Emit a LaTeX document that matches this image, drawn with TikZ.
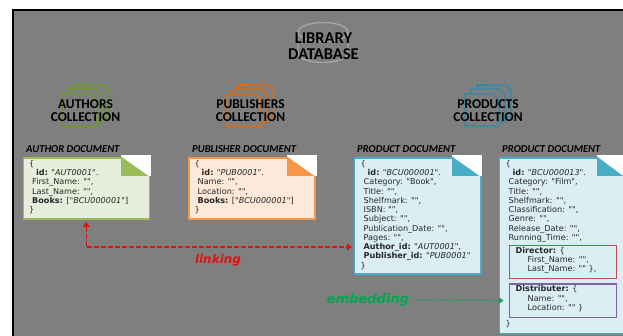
\documentclass[tikz,border=0pt]{standalone}
\usepackage{fontspec}
\setmainfont{Carlito}
\newfontfamily\docfont{DejaVu Sans}
\usetikzlibrary{arrows.meta,calc}
\definecolor{bggrey}{HTML}{7F7F7F}
\definecolor{gfill}{HTML}{E8EEDC}
\definecolor{gline}{HTML}{9BBB59}
\definecolor{ofill}{HTML}{FDE9D9}
\definecolor{oline}{HTML}{F79646}
\definecolor{bfill}{HTML}{DAEEF3}
\definecolor{bline}{HTML}{4BACC6}
\definecolor{gicon}{HTML}{6E9A2A}
\definecolor{oicon}{HTML}{E36C09}
\definecolor{bicon}{HTML}{2A8CA8}
\definecolor{cyl}{HTML}{A8A69A}
\definecolor{linkred}{HTML}{E01010}
\definecolor{embgreen}{HTML}{00A850}
\definecolor{dirline}{HTML}{C0504D}
\definecolor{distline}{HTML}{8064A2}
\tikzset{
  x=1pt,y=-1pt,
  docbox/.style={draw=#1,line width=1.5pt,anchor=north west,inner sep=0pt},
  doctitle/.style={font=\fontsize{10.6}{11}\selectfont\bfseries\itshape,anchor=west,inner sep=0pt},
  doctext/.style={font=\docfont\fontsize{8.1}{9.25}\selectfont,align=left,anchor=north west,inner sep=0pt,text=black!85},
  colltitle/.style={font=\fontsize{13.5}{12.5}\selectfont\bfseries,align=center,inner sep=0pt,text=black},
  iconpage/.style={draw=#1,line width=1.2pt,fill=none},
  subbox/.style={draw=#1,line width=1.2pt,anchor=north west,inner sep=0pt,minimum width=107pt,minimum height=33pt},
  linkarrow/.style={draw=linkred,line width=1.3pt,dashed,dash pattern=on 5pt off 2pt,{Triangle[length=5pt,width=7pt]}-{Triangle[length=5pt,width=7pt]}},
  linklabel/.style={font=\docfont\fontsize{12}{13}\selectfont\bfseries\itshape,text=linkred,inner sep=0pt},
  emblabel/.style={font=\docfont\fontsize{13}{13}\selectfont\bfseries\itshape,text=embgreen,inner sep=0pt},
}
\newcommand{\foldcorner}[4]{%
  \fill[white] (#1,155) rectangle (#2,#3);
  \fill[#4] (#1,#3) -- (#1,156.5) -- (#2-2.5,#3) -- cycle;
}
\newcommand{\collicon}[2]{%
  \begin{scope}[xshift=#1pt]
    \draw[iconpage=#2] (85,85) -- (103,85) -- (108,90) -- (108,117) -- (102,117);
    \draw[iconpage=#2] (68,94) -- (68,89) -- (96,89) -- (102,95) -- (102,122) -- (96,122);
    \draw[iconpage=#2] (74,89) -- (74,85) -- (85,85);
    \draw[iconpage=#2] (62,94) -- (90,94) -- (96,100) -- (96,126) -- (62,126) -- cycle;
  \end{scope}
}
\begin{document}
\begin{tikzpicture}
\useasboundingbox (0,0) rectangle (623,336);
\clip (0,0) rectangle (623,336);
\fill[white] (0,0) rectangle (623,336);
\fill[bggrey] (12,10) rectangle (623,336);
\draw[black,line width=2pt] (12.5,336) -- (12.5,10.5) -- (623,10.5);

% database cylinder
\draw[cyl,line width=1.4pt] (298,32) -- (298,53) arc[start angle=180,end angle=360,x radius=25,y radius=-9.5] -- (348,32);
\draw[cyl,line width=1.4pt] (323,32) ellipse [x radius=25,y radius=9.5];
\node[colltitle,font=\fontsize{16.5}{15.5}\selectfont\bfseries] (dbtitle) at (323.5,46) {LIBRARY\\DATABASE};

% collections
\collicon{0}{gicon}
\collicon{165}{oicon}
\collicon{403}{bicon}
\node[colltitle] (authorcoll) at (85.5,110.5) {AUTHORS\\COLLECTION};
\node[colltitle] (pubcoll) at (250.5,110.5) {PUBLISHERS\\COLLECTION};
\node[colltitle] (prodcoll) at (488,110.5) {PRODUCTS\\COLLECTION};

% document boxes
\node[docbox=gline,fill=gfill,minimum width=126pt,minimum height=61pt] (authordoc) at (22.5,157.5) {};
\node[docbox=oline,fill=ofill,minimum width=126pt,minimum height=61pt] (pubdoc) at (188,157.5) {};
\node[docbox=bline,fill=bfill,minimum width=126.5pt,minimum height=116pt] (productdoc) at (353.5,157.5) {};
\node[docbox=bline,fill=bfill,minimum width=130pt,minimum height=175pt] (filmdoc) at (498.5,157.5) {};

% folded corners
\foldcorner{121}{151}{176}{gline}
\foldcorner{287}{317}{176}{oline}
\foldcorner{452}{482}{176}{bline}
\foldcorner{597}{625.5}{176}{bline}

% titles
\node[doctitle] (t1) at (26,149) {AUTHOR DOCUMENT};
\node[doctitle] (t2) at (192,149) {PUBLISHER DOCUMENT};
\node[doctitle] (t3) at (357,149) {PRODUCT DOCUMENT};
\node[doctitle] (t4) at (502,149) {PRODUCT DOCUMENT};

% document texts
\node[doctext] (a1) at (29,160) {\{\\
\hspace*{7pt}\textbf{id:} "\textit{AUT0001}".\\
\hspace*{3pt}First\_Name: "",\\
\hspace*{3pt}Last\_Name: "",\\
\hspace*{3pt}\textbf{Books:} ["\textit{BCU000001}"]\\
\}};
\node[doctext] (a2) at (194.5,160) {\{\\
\hspace*{7pt}\textbf{id:} "\textit{PUB0001}".\\
\hspace*{3pt}Name: "",\\
\hspace*{3pt}Location: "",\\
\hspace*{3pt}\textbf{Books:} ["\textit{BCU000001}"]\\
\}};
\node[doctext] (a3) at (360.5,160) {\{\\
\hspace*{7pt}\textbf{id:} "\textit{BCU000001}".\\
\hspace*{3pt}Category: "Book",\\
\hspace*{3pt}Title: "",\\
\hspace*{3pt}Shelfmark: "",\\
\hspace*{3pt}ISBN: "",\\
\hspace*{3pt}Subject: "",\\
\hspace*{3pt}Publication\_Date: "",\\
\hspace*{3pt}Pages: "",\\
\hspace*{3pt}\textbf{Author\_id:} "\textit{AUT0001}",\\
\hspace*{3pt}\textbf{Publisher\_id:} "\textit{PUB0001}"\\
\}};
\node[doctext] (a4) at (505.5,160) {\{\\
\hspace*{7pt}\textbf{id:} "\textit{BCU000013}".\\
\hspace*{3pt}Category: "Film",\\
\hspace*{3pt}Title: "",\\
\hspace*{3pt}Shelfmark: "",\\
\hspace*{3pt}Classification: "",\\
\hspace*{3pt}Genre: "",\\
\hspace*{3pt}Release\_Date: "",\\
\hspace*{3pt}Running\_Time: "",};
\node[doctext] (a5) at (505.5,320) {\}};

% embedded boxes
\node[subbox=dirline] (director) at (508.5,245) {};
\node[subbox=distline] (distributer) at (508.5,283.5) {};
\node[doctext,anchor=north west] (dirtext) at (515.5,247) {\textbf{Director:} \{\\
\hspace*{12pt}First\_Name: "",\\
\hspace*{12pt}Last\_Name: "" \},};
\node[doctext,anchor=north west] (disttext) at (515.5,285.5) {\textbf{Distributer:} \{\\
\hspace*{12pt}Name: "",\\
\hspace*{12pt}Location: "" \}};

% linking connector
\coordinate (linky) at (0,247);
\draw[linkarrow,shorten <=2pt,shorten >=1.5pt] (authordoc.south) |- (productdoc.west |- linky);
\node[linklabel] (linking) at (218,260) {linking};

% embedding connector
\node[emblabel] (embedding) at (368,300) {embedding};
\draw[draw=embgreen,line width=1pt,dashed,dash pattern=on 3pt off 2pt,-{Triangle[length=4.5pt,width=6pt]},shorten <=6pt,shorten >=5pt] (embedding.east) -- (distributer.west);
\end{tikzpicture}
\end{document}
